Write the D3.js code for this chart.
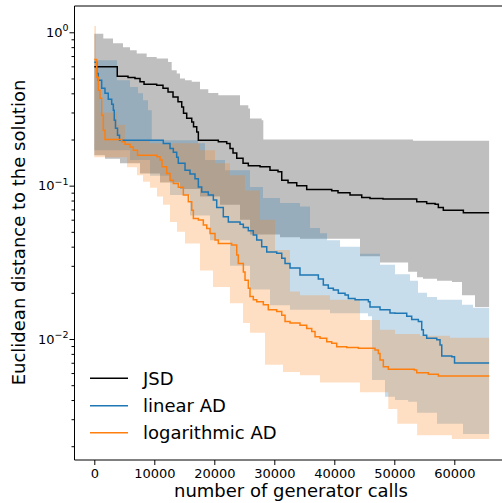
<!DOCTYPE html>
<html>
<head>
<meta charset="utf-8">
<script src="https://cdn.jsdelivr.net/npm/d3@7.9.0/dist/d3.min.js"></script>
<style>
  body { margin: 0; background: #fff; }
  svg { display: block; font-family: 'DejaVu Sans', sans-serif; }
</style>
</head>
<body>
<svg id="chart"></svg>
<script>
// step curves: [generator calls, distance]
const xEnd = 65800;

const jsdMedian = [[0,0.595],[3830,0.517],[5620,0.507],[6780,0.50],[7620,0.475],[8290,0.458],[10400,0.452],[11450,0.432],[12290,0.408],[13120,0.379],[13950,0.352],[14570,0.326],[14870,0.297],[15400,0.275],[16240,0.26],[16540,0.242],[17070,0.224],[17340,0.198],[20670,0.193],[22070,0.188],[22620,0.175],[23120,0.163],[23740,0.151],[24790,0.140],[25670,0.1346],[27620,0.1326],[29280,0.126],[30620,0.123],[31240,0.1086],[32290,0.1043],[33740,0.0997],[35400,0.0944],[39570,0.0925],[40620,0.0898],[42620,0.0868],[44570,0.0838],[45950,0.0825],[48120,0.0817],[53740,0.0784],[55400,0.0766],[56800,0.0757],[57340,0.0721],[58170,0.0692],[61510,0.0665]];
const jsdUpper = [[0,0.98],[1500,0.91],[3120,0.848],[4780,0.80],[5950,0.763],[7070,0.727],[8730,0.69],[10400,0.674],[12290,0.64],[12900,0.565],[13740,0.538],[14280,0.50],[15120,0.487],[16240,0.475],[17620,0.425],[19000,0.402],[20670,0.389],[24280,0.334],[25670,0.318],[25950,0.274],[27900,0.267],[28170,0.2],[53120,0.196]];
const jsdLower = [[0,0.158],[1780,0.15],[4280,0.14],[7620,0.12],[10950,0.105],[14280,0.095],[17620,0.085],[20950,0.075],[24280,0.06],[25950,0.048],[30950,0.046],[34280,0.045],[44280,0.0347],[47620,0.0316],[52300,0.0275],[53790,0.0253],[54780,0.0247],[57120,0.024],[59620,0.0235],[61280,0.0193],[63450,0.0162]];

const linMedian = [[0,0.638],[400,0.538],[670,0.487],[1230,0.432],[1780,0.40],[2330,0.366],[2900,0.34],[3170,0.31],[3330,0.267],[3530,0.237],[3870,0.213],[4200,0.198],[11500,0.188],[12620,0.175],[13170,0.165],[13730,0.153],[14000,0.14],[15120,0.126],[15950,0.119],[16780,0.111],[17340,0.098],[17900,0.091],[19000,0.0868],[19840,0.0805],[20400,0.072],[21500,0.0626],[22340,0.058],[24290,0.0561],[24840,0.0534],[25670,0.0508],[26500,0.0476],[27070,0.0442],[27900,0.0399],[28740,0.037],[30400,0.0362],[31240,0.0336],[31790,0.0311],[32620,0.029],[34280,0.0261],[37340,0.0246],[38170,0.0225],[39000,0.0214],[39840,0.0209],[40670,0.0199],[41790,0.0194],[42340,0.0184],[43460,0.018],[45680,0.0175],[45950,0.0162],[47620,0.0155],[49280,0.0148],[50120,0.0147],[52070,0.0141],[52900,0.0134],[54010,0.013],[54570,0.0115],[54840,0.0106],[55400,0.0101],[57080,0.0099],[57620,0.00914],[57910,0.00775],[59580,0.00767],[60040,0.00698]];
const linUpper = [[0,0.657],[3780,0.487],[5950,0.44],[7280,0.40],[8120,0.36],[8950,0.31],[9570,0.198],[17280,0.189],[18450,0.147],[21780,0.126],[25950,0.098],[28120,0.083],[30950,0.077],[34280,0.073],[35950,0.053],[37620,0.049],[38790,0.044],[40950,0.04],[44280,0.036],[47620,0.0305],[50120,0.0264],[52620,0.024],[53950,0.02],[55450,0.0188],[57120,0.018],[61280,0.0167],[63120,0.016]];
const linLower = [[0,0.17],[3780,0.17],[5950,0.147],[9280,0.116],[12620,0.087],[15950,0.064],[19280,0.044],[22620,0.03],[25950,0.021],[29280,0.0166],[32620,0.0155],[39280,0.0147],[45620,0.0141],[46280,0.0054],[48450,0.0042],[50120,0.004],[52300,0.0039],[53790,0.0033],[57120,0.0028],[61450,0.0024]];

const logMedian = [[0,0.664],[400,0.509],[670,0.419],[950,0.372],[1230,0.288],[1500,0.23],[1780,0.2],[4570,0.193],[5120,0.186],[5950,0.179],[6500,0.170],[7200,0.158],[10450,0.1545],[10950,0.147],[11290,0.133],[12070,0.12],[12620,0.1086],[13170,0.1033],[14000,0.0977],[14840,0.0868],[15670,0.0784],[16240,0.0692],[16510,0.0611],[17340,0.0596],[18170,0.0553],[18740,0.0526],[19290,0.0488],[20120,0.0442],[20670,0.042],[22900,0.041],[23740,0.0353],[24000,0.0311],[24840,0.0274],[25120,0.0242],[25670,0.0214],[25950,0.0189],[26500,0.018],[27070,0.0175],[28170,0.0167],[29000,0.0155],[30400,0.0151],[31240,0.0143],[31790,0.013],[32620,0.0127],[34280,0.0123],[35400,0.0117],[36240,0.0112],[36790,0.01035],[37620,0.0101],[38740,0.0096],[39570,0.00937],[40400,0.0089],[42070,0.00882],[44010,0.00869],[46790,0.00848],[47340,0.00806],[47620,0.0073],[48170,0.0066],[49000,0.00635],[53340,0.00628],[53740,0.00603],[55680,0.00589],[57340,0.00574]];
const logUpper = [[0,1.1],[280,0.657],[620,0.419],[950,0.30],[3780,0.25],[5120,0.198],[9280,0.189],[17620,0.17],[20120,0.14],[22620,0.117],[25120,0.093],[27620,0.06],[30120,0.038],[32620,0.0204],[34280,0.0193],[39280,0.018],[44280,0.0133],[47620,0.0115],[50120,0.0108],[54280,0.0105],[59280,0.0102]];
const logLower = [[0,0.153],[3120,0.153],[5450,0.132],[7120,0.117],[8120,0.106],[9280,0.097],[10450,0.085],[11450,0.075],[12620,0.058],[13780,0.05],[15120,0.042],[17620,0.028],[19780,0.0218],[22620,0.0171],[24790,0.0127],[25950,0.011],[28450,0.0068],[31450,0.0061],[34280,0.0058],[37620,0.0052],[44280,0.0045],[49000,0.0035],[50500,0.0028],[53800,0.00236],[59600,0.00223]];

const seriesNames = ['JSD', 'linear AD', 'logarithmic AD'];
const seriesColors = ['#000000', '#1f77b4', '#ff7f0e'];
const xTicks = [0, 10000, 20000, 30000, 40000, 50000, 60000];
const yTicks = [0.01, 0.1, 1];
const yTickExp = ['\u22122', '\u22121', '0'];

const width = 502;
const height = 503;
const plot = { left: 74.5, top: 6, bottom: 460, right: 508 };

const svg = d3.select('#chart').attr('width', width).attr('height', height);

const x = d3.scaleLinear().domain([-3300, 68950]).range([plot.left, plot.right]);
const y = d3.scaleLog().domain([0.001626, 1.484]).range([plot.bottom, plot.top]);

svg.append('clipPath').attr('id', 'clip')
  .append('rect')
  .attr('x', plot.left).attr('y', plot.top)
  .attr('width', plot.right - plot.left).attr('height', plot.bottom - plot.top);

// value of a step curve at a given x
function stepAt(list, xv) {
  let v = list[0][1];
  for (const p of list) { if (p[0] <= xv) v = p[1]; }
  return v;
}

function bandTable(lower, upper) {
  const xs = Array.from(new Set([...lower.map(d => d[0]), ...upper.map(d => d[0]), xEnd])).sort((a, b) => a - b);
  return xs.map(xv => ({ x: xv, lo: stepAt(lower, xv), hi: stepAt(upper, xv) }));
}

const area = d3.area()
  .curve(d3.curveStepAfter)
  .x(d => x(d.x))
  .y0(d => y(d.lo))
  .y1(d => y(d.hi));

const line = d3.line()
  .curve(d3.curveStepAfter)
  .x(d => x(d[0]))
  .y(d => y(d[1]));

const plotG = svg.append('g').attr('clip-path', 'url(#clip)');

const bands = [[jsdLower, jsdUpper], [linLower, linUpper], [logLower, logUpper]];
bands.forEach((b, i) => {
  plotG.append('path')
    .datum(bandTable(b[0], b[1]))
    .attr('d', area)
    .attr('fill', seriesColors[i])
    .attr('fill-opacity', 0.25);
});

const medians = [jsdMedian, linMedian, logMedian];
medians.forEach((m, i) => {
  plotG.append('path')
    .datum([...m, [xEnd, m[m.length - 1][1]]])
    .attr('d', line)
    .attr('fill', 'none')
    .attr('stroke', seriesColors[i])
    .attr('stroke-width', 1.5);
});

// axes
const xAxis = svg.append('g')
  .attr('transform', `translate(0,${plot.bottom})`)
  .call(d3.axisBottom(x).tickValues(xTicks).tickFormat(d3.format('d')).tickSize(5).tickPadding(4));
xAxis.select('.domain').remove();
xAxis.selectAll('text').attr('font-size', 13).attr('font-family', 'DejaVu Sans').attr('fill', '#000');

const minorTicks = [];
for (let e = -3; e <= 0; e++) {
  for (let k = 2; k <= 9; k++) {
    const v = k * Math.pow(10, e);
    if (v > y.domain()[0] && v < y.domain()[1]) minorTicks.push(v);
  }
}
const yMinor = svg.append('g')
  .attr('transform', `translate(${plot.left},0)`)
  .call(d3.axisLeft(y).tickValues(minorTicks).tickFormat(() => '').tickSize(3));
yMinor.select('.domain').remove();

const yAxis = svg.append('g')
  .attr('transform', `translate(${plot.left},0)`)
  .call(d3.axisLeft(y).tickValues(yTicks).tickFormat(() => '').tickSize(5));
yAxis.select('.domain').remove();

yTicks.forEach((t, i) => {
  const txt = svg.append('text')
    .attr('x', 68.5)
    .attr('y', y(t) + 4.5)
    .attr('text-anchor', 'end')
    .attr('font-size', 13)
    .attr('fill', '#000');
  txt.append('tspan').text('10');
  txt.append('tspan').attr('dy', -5.5).attr('font-size', 9.5).text(yTickExp[i]);
});

// spines
svg.append('line').attr('x1', plot.left).attr('x2', plot.left).attr('y1', plot.top).attr('y2', plot.bottom).attr('stroke', '#000').attr('stroke-width', 1);
svg.append('line').attr('x1', plot.left).attr('x2', plot.right).attr('y1', plot.bottom).attr('y2', plot.bottom).attr('stroke', '#000').attr('stroke-width', 1);
svg.append('line').attr('x1', plot.left).attr('x2', plot.right).attr('y1', plot.top).attr('y2', plot.top).attr('stroke', '#000').attr('stroke-width', 1);
svg.append('line').attr('x1', plot.right).attr('x2', plot.right).attr('y1', plot.top).attr('y2', plot.bottom).attr('stroke', '#000').attr('stroke-width', 1);

// axis labels
svg.append('text')
  .attr('x', 291).attr('y', 497)
  .attr('text-anchor', 'middle')
  .attr('font-size', 18)
  .text('number of generator calls');

svg.append('text')
  .attr('transform', 'translate(25,232.5) rotate(-90)')
  .attr('text-anchor', 'middle')
  .attr('font-size', 18)
  .text('Euclidean distance to the solution');

// legend
const legendY = [378.3, 405.7, 432.7];
seriesNames.forEach((name, i) => {
  svg.append('line')
    .attr('x1', 90).attr('x2', 128)
    .attr('y1', legendY[i]).attr('y2', legendY[i])
    .attr('stroke', seriesColors[i]).attr('stroke-width', 1.5);
  svg.append('text')
    .attr('x', 143).attr('y', legendY[i] + 6.5)
    .attr('font-size', 18)
    .text(name);
});
</script>
</body>
</html>
